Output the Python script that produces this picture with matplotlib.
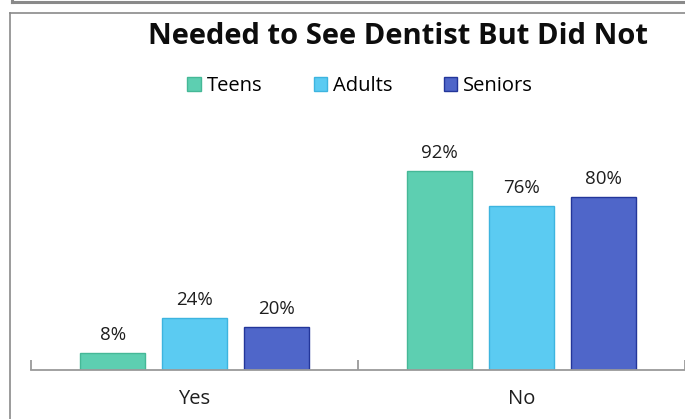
import matplotlib
matplotlib.use("Agg")
import matplotlib.pyplot as plt
from matplotlib.lines import Line2D
from matplotlib.patches import Patch
import numpy as np

categories = ["Yes", "No"]
series = ["Teens", "Adults", "Seniors"]
teens = [8, 92]
adults = [24, 76]
seniors = [20, 80]

face_colors = ["#5DCFB1", "#5BCBF2", "#4F66C9"]
edge_colors = ["#45B897", "#3DB4DF", "#23369A"]

W, H = 685, 419
fig = plt.figure(figsize=(W / 100, H / 100), dpi=100)
plt.rcParams["font.family"] = ["Open Sans", "DejaVu Sans"]

# page frame lines
gray = "#8a8a8a"
fig.add_artist(Line2D([12 / W, 1], [1 - 2 / H, 1 - 2 / H], color=gray, lw=2.2, transform=fig.transFigure))
fig.add_artist(Line2D([12 / W, 12 / W], [1, 1 - 2 / H], color=gray, lw=2.2, transform=fig.transFigure))
fig.add_artist(Line2D([10 / W, 1], [1 - 13 / H, 1 - 13 / H], color=gray, lw=1.2, transform=fig.transFigure))
fig.add_artist(Line2D([10 / W, 10 / W], [0, 1 - 13 / H], color=gray, lw=1.2, transform=fig.transFigure))

# axes: baseline at y=370 px, categories span 31..685 px
ax_left, ax_right = 31, 685
ax_bottom = 370
px_per_unit = 199 / 92
ymax = 100
ax_h = ymax * px_per_unit
ax = fig.add_axes([ax_left / W, (H - ax_bottom) / H, (ax_right - ax_left) / W, ax_h / H])

x = np.arange(len(categories))
width = 0.2
offsets = [-0.25, 0.0, 0.25]
for vals, off, fc, ec, name in zip([teens, adults, seniors], offsets, face_colors, edge_colors, series):
    bars = ax.bar(x + off, vals, width, color=fc, edgecolor=ec, linewidth=1.0, label=name)
    for b, v in zip(bars, vals):
        ax.text(b.get_x() + b.get_width() / 2, v + 4.0, f"{v}%", ha="center", va="bottom",
                fontsize=13.5, color="#1e1e1e", clip_on=False)

ax.set_xlim(-0.5, 1.5)
ax.set_ylim(0, ymax)
for s in ["top", "right", "left"]:
    ax.spines[s].set_visible(False)
ax.spines["bottom"].set_color("#9a9a9a")
ax.spines["bottom"].set_linewidth(1.3)
ax.set_yticks([])
ax.set_xticks(x)
ax.set_xticklabels(categories, fontsize=14.5, color="#1e1e1e")
ax.tick_params(axis="x", which="major", length=0, pad=14)
ax.set_xticks([-0.5, 0.5, 1.5], minor=True)
ax.tick_params(axis="x", which="minor", direction="in", length=7, width=1.3, color="#9a9a9a")

fig.text(398 / W, 1 - 37 / H, "Needed to See Dentist But Did Not", ha="center", va="center",
         fontsize=21, fontweight="bold", color="#0d0d0d")

handles = [Patch(facecolor=fc, edgecolor=ec, label=n) for fc, ec, n in zip(face_colors, edge_colors, series)]
fig.legend(handles=handles, loc="center", bbox_to_anchor=(360 / W, 1 - 86 / H), ncol=3, frameon=False,
           fontsize=14.5, handlelength=0.65, handleheight=0.65, handletextpad=0.3, columnspacing=2.55)

fig.savefig("out.png", dpi=100)
